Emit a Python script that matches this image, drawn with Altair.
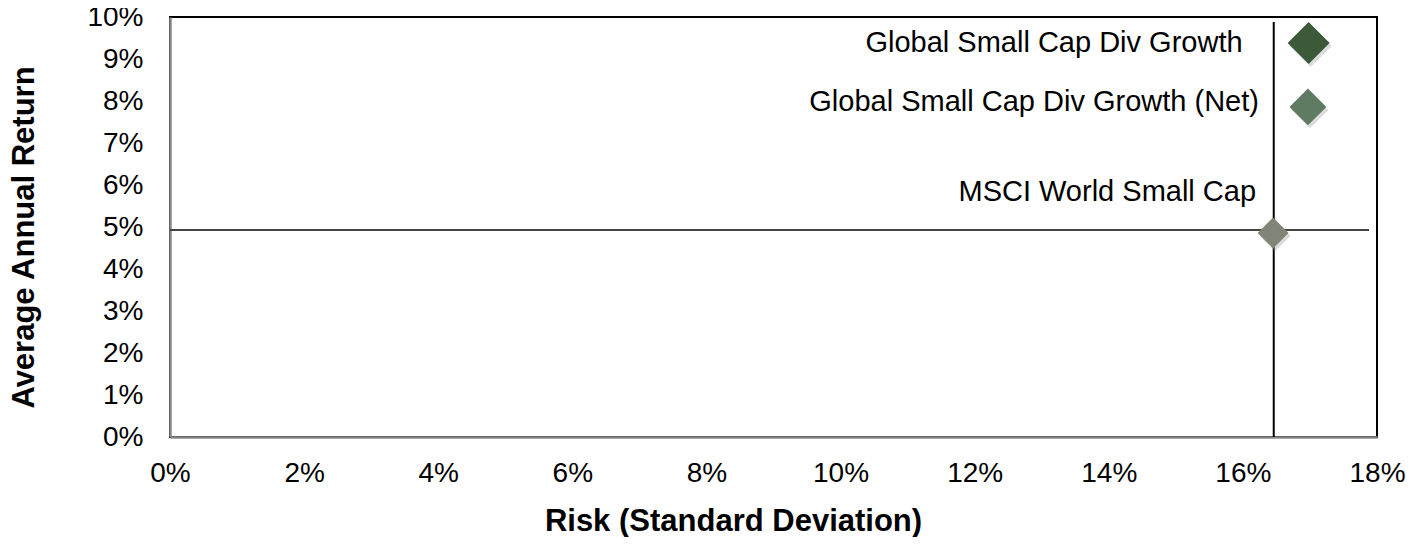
import altair as alt
import pandas as pd

names = ["Global Small Cap Div Growth", "Global Small Cap Div Growth (Net)", "MSCI World Small Cap"]
risk = [0.1698, 0.1697, 0.1645]
returns = [0.0938, 0.0786, 0.0486]
colors = ["#3c5a3a", "#5f7b62", "#808578"]
ref_risk = [0.1646]
ref_return = [0.0493]
x_ticks = [0, 0.02, 0.04, 0.06, 0.08, 0.10, 0.12, 0.14, 0.16, 0.18]
y_ticks = [0, 0.01, 0.02, 0.03, 0.04, 0.05, 0.06, 0.07, 0.08, 0.09, 0.10]

df = pd.DataFrame({"name": names, "risk": risk, "ret": returns, "color": colors})

FONT = "Liberation Sans"
W, H = 1207, 420

x_enc = alt.X("risk:Q", scale=alt.Scale(domain=[0, 0.18], nice=False),
              axis=alt.Axis(values=x_ticks, format=".0%", title="Risk (Standard Deviation)",
                            grid=False, ticks=False, labelPadding=22, labelFontSize=28,
                            labelFont=FONT, labelColor="black", domainColor="#888888",
                            domainWidth=2.5, titleFont=FONT, titleFontSize=31,
                            titleFontWeight="bold", titleColor="black",
                            titleX=563, titleY=93, titleBaseline="alphabetic",
                            labelFlush=False))
y_enc = alt.Y("ret:Q", scale=alt.Scale(domain=[0, 0.10], nice=False),
              axis=alt.Axis(values=y_ticks, format=".0%", title="Average Annual Return",
                            grid=False, ticks=False, labelPadding=27, labelFontSize=28,
                            labelFont=FONT, labelColor="black", domainColor="#888888",
                            domainWidth=2.5, titleFont=FONT, titleFontSize=31,
                            titleFontWeight="bold", titleColor="black",
                            titleX=-137, titleY=220, titleBaseline="alphabetic",
                            titleAngle=270, labelFlush=False))

base = alt.Chart(df)

vline = alt.Chart(pd.DataFrame({"risk": ref_risk})).mark_rule(color="black", strokeWidth=2).encode(
    x=alt.X("risk:Q", scale=alt.Scale(domain=[0, 0.18], nice=False)),
    y=alt.value(5), y2=alt.value(H))
hline = alt.Chart(pd.DataFrame({"ret": ref_return})).mark_rule(color="#444444", strokeWidth=2).encode(
    y=alt.Y("ret:Q", scale=alt.Scale(domain=[0, 0.10], nice=False)),
    x=alt.value(0), x2=alt.value(1199))

size_scale = alt.Scale(domain=names, range=[1764, 961, 961])
color_scale = alt.Scale(domain=names, range=colors)

shadow = base.mark_point(shape="diamond", filled=True, color="#9a9a9a", opacity=0.35,
                         xOffset=2, yOffset=3).encode(
    x=x_enc, y=y_enc,
    size=alt.Size("name:N", scale=size_scale, legend=None))
pts = base.mark_point(shape="diamond", filled=True, opacity=1).encode(
    x=x_enc, y=y_enc,
    size=alt.Size("name:N", scale=size_scale, legend=None),
    color=alt.Color("name:N", scale=color_scale, legend=None))

def label(i, dx, dy):
    return alt.Chart(df.iloc[[i]]).mark_text(align="right", baseline="middle", font=FONT,
                                             fontSize=29, color="black", dx=dx, dy=dy).encode(
        x=x_enc, y=y_enc, text="name:N")

lab1 = label(0, -66, 0)
lab2 = label(1, -49, -5)
lab3 = label(2, -17, -41)

chart = alt.layer(hline, vline, shadow, pts, lab1, lab2, lab3).properties(
    width=W, height=H,
    autosize=alt.AutoSizeParams(type="none"),
    padding={"left": 162, "top": 9, "right": 30, "bottom": 100},
    background="white",
).configure_view(stroke="black", strokeWidth=2)

chart.save("out.html", embed_options={"renderer": "svg", "actions": False})
